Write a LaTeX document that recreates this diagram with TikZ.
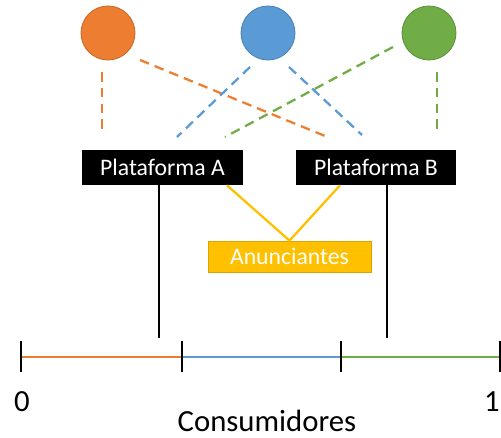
\documentclass[tikz,border=0pt]{standalone}
\usepackage{fontspec}
\setmainfont{Carlito}
\definecolor{naranja}{HTML}{ED7D31}
\definecolor{azul}{HTML}{5B9BD5}
\definecolor{verde}{HTML}{70AD47}
\definecolor{amarillo}{HTML}{FFC000}
\begin{document}
\begin{tikzpicture}
    [x=0.02cm, y=-0.02cm,
     grupo/.style={circle, minimum size=1.08cm, inner sep=0pt, line width=0.5pt},
     plat/.style={fill=black, text=white, minimum width=3.22cm, minimum height=0.7cm, inner sep=0pt, font=\fontsize{13.5}{15}\selectfont},
     enlace/.style={dash pattern=on 5.5pt off 3.5pt, line width=1.3pt},
     marca/.style={line width=1.2pt}]
    \useasboundingbox (0,0) rectangle (501,438);

    \node[grupo, fill=naranja, draw=naranja!85!black] (O) at (108,33) {};
    \node[grupo, fill=azul, draw=azul!85!black] (Az) at (268,33) {};
    \node[grupo, fill=verde, draw=verde!85!black] (V) at (429,33) {};

    \node[plat] (PA) at (162.5,167.5) {Plataforma A};
    \node[plat] (PB) at (376,167.5) {Plataforma B};
    \node[fill=amarillo, draw=amarillo!85!black, text=white, minimum width=3.26cm, minimum height=0.62cm, inner sep=0pt, font=\fontsize{13.5}{15}\selectfont] (AN) at (289.5,256.5) {Anunciantes};

    % extremos libres de las lineas punteadas
    \coordinate (o1) at (102,135);
    \coordinate (o2) at (325,136);
    \coordinate (a1) at (177,137);
    \coordinate (a2) at (362,135);
    \coordinate (v1) at (225,137);
    \coordinate (v2) at (437,135);

    \draw[enlace, naranja] (102,72) -- (o1);
    \draw[enlace, naranja] (140,60) -- (o2);
    \draw[enlace, azul] (250,67) -- (a1);
    \draw[enlace, azul] (289,67) -- (a2);
    \draw[enlace, verde] (393,47) -- (v1);
    \draw[enlace, verde] (437,72) -- (v2);

    % anunciantes
    \coordinate (ya) at (227,0);
    \coordinate (yb) at (340,0);
    \draw[amarillo, line width=1.3pt] (PA.south -| ya) -- (AN.north) -- (PB.south -| yb);

    % eje de consumidores
    \coordinate (c0) at (21,357);
    \coordinate (c1) at (182,357);
    \coordinate (c2) at (341,357);
    \coordinate (c3) at (500,357);
    \draw[naranja, line width=1.3pt] (c0) -- (c1);
    \draw[azul, line width=1.3pt] (c1) -- (c2);
    \draw[verde, line width=1.3pt] (c2) -- (c3);
    \foreach \c in {c0,c1,c2,c3}
        \draw[marca] ([yshift=-0.3cm]\c) -- ([yshift=0.32cm]\c);

    \coordinate (pa) at (159,338);
    \coordinate (pb) at (387,338);
    \draw[marca] (PA.south -| pa) -- (pa);
    \draw[marca] (PB.south -| pb) -- (pb);

    \node[font=\fontsize{17.5}{20}\selectfont] (cero) at (22,402) {0};
    \node[font=\fontsize{17.5}{20}\selectfont] (uno) at (492,402) {1};
    \node[font=\fontsize{17.5}{20}\selectfont] (cons) at (267,421) {Consumidores};
\end{tikzpicture}
\end{document}
